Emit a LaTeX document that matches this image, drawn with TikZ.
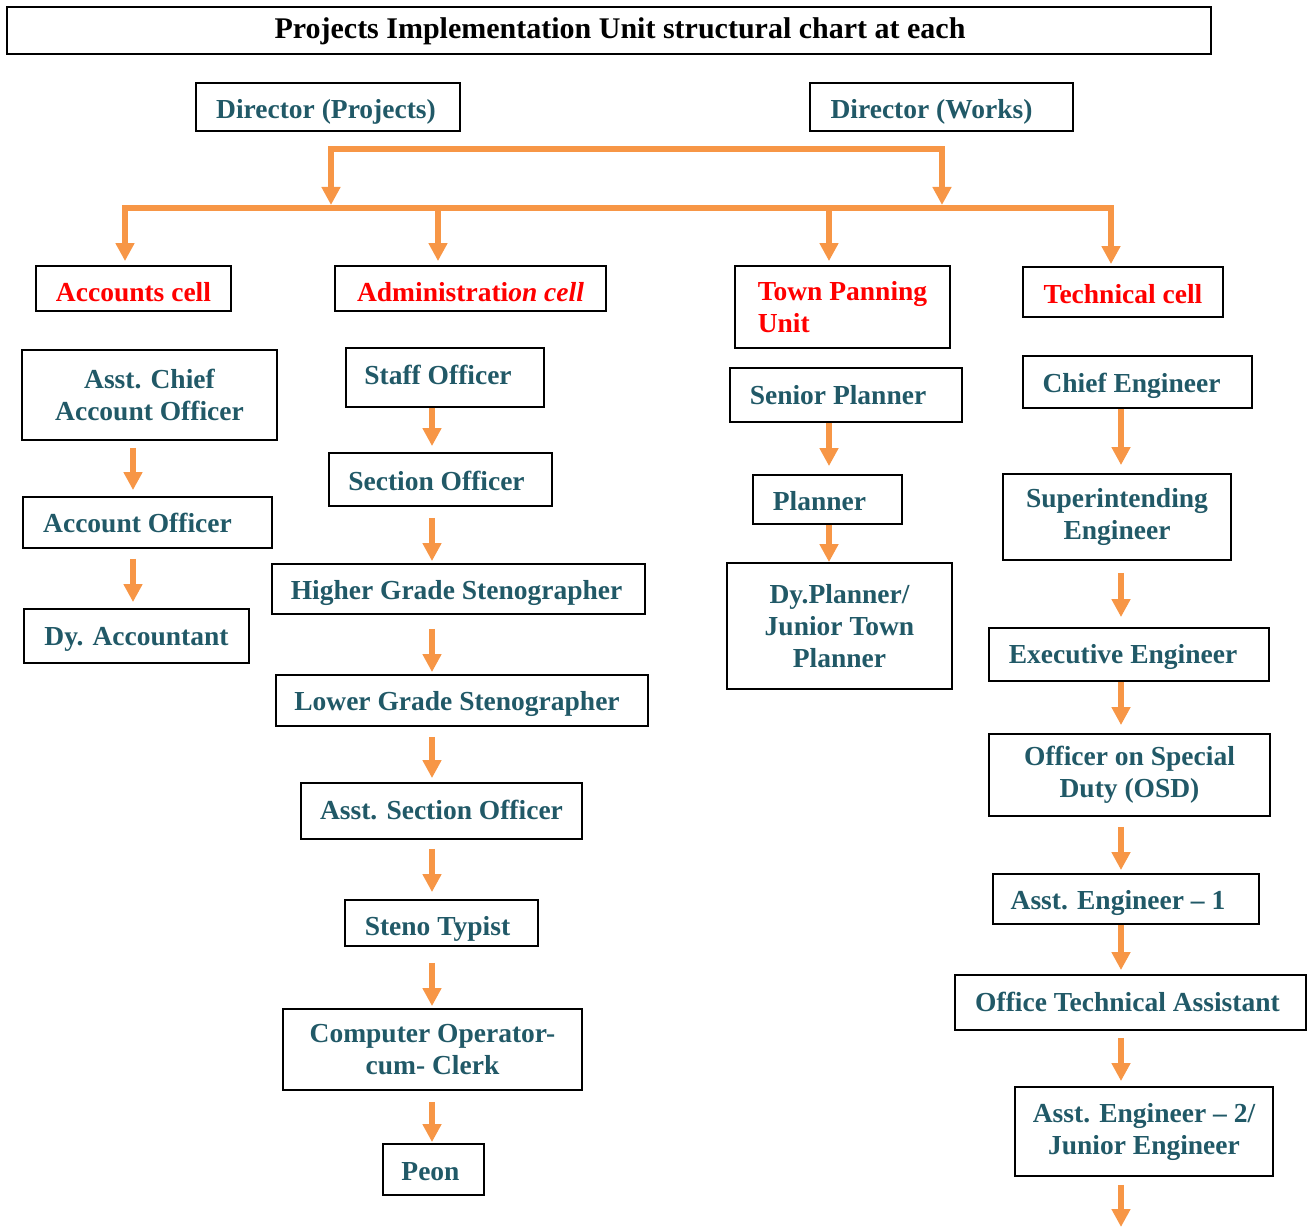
\documentclass[tikz,border=0pt]{standalone}
\usepackage{fontspec}
\setmainfont{Liberation Serif}
\usetikzlibrary{arrows.meta}
\definecolor{teal2}{HTML}{215967}
\definecolor{orng}{HTML}{F79646}
\definecolor{redt}{HTML}{FF0000}
\newcommand\shx[2]{\kern#1pt\relax#2\kern-#1pt\relax}
\begin{document}
\begin{tikzpicture}[x=1pt,y=-1pt,
  box/.style={draw=black,line width=1.8pt,inner sep=2pt,align=center,
    font=\fontsize{27.5}{32}\selectfont\bfseries,text=teal2},
  tv/.style={text height=#1pt,text depth=6pt},
  cell/.style={box,text=redt},
  bar/.style={draw=orng,line width=5.5pt,line cap=rect},
  arr/.style={draw=orng,line width=6pt,-{Triangle[width=18pt,length=18pt]}}]
\useasboundingbox (0,0) rectangle (1315,1228);
% title
\node[draw=black,line width=1.5pt,minimum width=1204pt,minimum height=47pt,inner sep=0pt,
  tv=22,font=\fontsize{30}{32}\selectfont\bfseries] (title) at (609,30.5)
  {\shx{11}{Projects Implementation Unit structural chart at each}};
% directors
\node[box,tv=30,minimum width=264pt,minimum height=48pt] (dp) at (328,107) {\shx{-2}{Director (Projects)}};
\node[box,tv=30,minimum width=263pt,minimum height=48pt] (dw) at (941.5,107) {\shx{-10}{Director (Works)}};
% cells
\node[cell,tv=31,minimum width=195pt,minimum height=45pt] (acc) at (133.5,288.5) {Accounts cell};
\node[cell,tv=31,minimum width=271pt,minimum height=45pt] (adm) at (470.5,288.5) {Administrati\textit{on cell}};
\node[cell,minimum width=215pt,minimum height=82pt,align=left] (town) at (842.5,307) {Town Panning\\Unit};
\node[cell,tv=28,minimum width=200pt,minimum height=50pt] (tech) at (1123,292) {Technical cell};
% accounts column
\node[box,minimum width=255pt,minimum height=90pt] (aco) at (149.5,395) {Asst. Chief\\Account Officer};
\node[box,tv=25,minimum width=249pt,minimum height=51pt] (ao) at (147.5,522.5) {\shx{-10}{Account Officer}};
\node[box,tv=24,minimum width=225pt,minimum height=54pt] (dya) at (136.5,636) {Dy. Accountant};
% admin column
\node[box,tv=19,minimum width=198pt,minimum height=59pt] (so) at (445,377.5) {\shx{-7}{Staff Officer}};
\node[box,tv=27,minimum width=223pt,minimum height=53pt] (sec) at (440.5,479.5) {\shx{-4}{Section Officer}};
\node[box,tv=26,minimum width=373pt,minimum height=50pt] (hgs) at (458.5,589) {\shx{-2}{Higher Grade Stenographer}};
\node[box,tv=25,minimum width=372pt,minimum height=51pt] (lgs) at (462,700.5) {\shx{-5}{Lower Grade Stenographer}};
\node[box,tv=22,minimum width=281pt,minimum height=56pt] (aso) at (441.5,811) {Asst. Section Officer};
\node[box,tv=30,minimum width=193pt,minimum height=46pt] (st) at (441.5,923) {\shx{-4}{Steno Typist}};
\node[box,minimum width=299pt,minimum height=81pt] (coc) at (432.5,1049.5) {Computer Operator-\\cum- Clerk};
\node[box,tv=27,minimum width=101pt,minimum height=51pt] (peon) at (433.5,1169.5) {\shx{-3}{Peon}};
% town planning column
\node[box,tv=24,minimum width=232pt,minimum height=54pt] (sp) at (846,395) {\shx{-8}{Senior Planner}};
\node[box,tv=27,minimum width=149pt,minimum height=49pt] (pl) at (827.5,499.5) {\shx{-8}{Planner}};
\node[box,minimum width=225pt,minimum height=126pt] (dyp) at (839.5,626) {Dy.Planner/\\Junior Town\\Planner};
% technical column
\node[box,tv=26,minimum width=229pt,minimum height=52pt] (ce) at (1137.5,382) {\shx{-6}{Chief Engineer}};
\node[box,minimum width=228pt,minimum height=86pt] (se) at (1117,517) {Superintending\\Engineer};
\node[box,tv=23,minimum width=280pt,minimum height=53pt] (ee) at (1129,654.5) {\shx{-6}{Executive Engineer}};
\node[box,minimum width=281pt,minimum height=82pt] (osd) at (1129.5,775) {Officer on Special\\Duty (OSD)};
\node[box,tv=26,minimum width=266pt,minimum height=50pt] (ae1) at (1126,899) {\shx{-8}{Asst. Engineer -- 1}};
\node[box,tv=23,minimum width=351pt,minimum height=55pt] (ota) at (1130.5,1002.5) {\shx{-3}{Office Technical Assistant}};
\node[box,minimum width=258pt,minimum height=89pt] (ae2) at (1144,1131.5) {Asst. Engineer -- 2/\\Junior Engineer};
% coordinates
\coordinate (b1L) at (331,149);
\coordinate (b1R) at (942,149);
\coordinate (b2L) at (125,208);
\coordinate (b2R) at (1111,208);
\coordinate (j1) at (331,208);
\coordinate (j2) at (942,208);
\coordinate (xadm) at (438,208);
\coordinate (xtown) at (829,208);
\coordinate (cA) at (133,0);
\coordinate (cB) at (432,0);
\coordinate (cT) at (829,0);
\coordinate (cE) at (1121,0);
\coordinate (endc) at (1121,1227);
% bars
\draw[bar] (b1L) -- (b1R);
\draw[bar] (b2L) -- (b2R);
\draw[arr,shorten >=3pt] (b1L) -- (j1);
\draw[arr,shorten >=3pt] (b1R) -- (j2);
\draw[arr,shorten >=4pt] (b2L) -- (acc.north -| b2L);
\draw[arr,shorten >=4pt] (xadm) -- (adm.north -| xadm);
\draw[arr,shorten >=4pt] (xtown) -- (town.north -| xtown);
\draw[arr,shorten >=2pt] (b2R) -- (tech.north -| b2R);
% accounts links
\draw[arr,shorten <=7pt,shorten >=6pt] (aco.south -| cA) -- (ao.north -| cA);
\draw[arr,shorten <=10pt,shorten >=6pt] (ao.south -| cA) -- (dya.north -| cA);
% admin links
\draw[arr,shorten >=6pt] (so.south -| cB) -- (sec.north -| cB);
\draw[arr,shorten <=11pt,shorten >=2pt] (sec.south -| cB) -- (hgs.north -| cB);
\draw[arr,shorten <=14pt,shorten >=2pt] (hgs.south -| cB) -- (lgs.north -| cB);
\draw[arr,shorten <=10pt,shorten >=4pt] (lgs.south -| cB) -- (aso.north -| cB);
\draw[arr,shorten <=9pt,shorten >=7pt] (aso.south -| cB) -- (st.north -| cB);
\draw[arr,shorten <=16pt,shorten >=2pt] (st.south -| cB) -- (coc.north -| cB);
\draw[arr,shorten <=11pt,shorten >=1pt] (coc.south -| cB) -- (peon.north -| cB);
% town links
\draw[arr,shorten >=8pt] (sp.south -| cT) -- (pl.north -| cT);
\draw[arr] (pl.south -| cT) -- (dyp.north -| cT);
% technical links
\draw[arr,shorten >=8pt] (ce.south -| cE) -- (se.north -| cE);
\draw[arr,shorten <=12pt,shorten >=10pt] (se.south -| cE) -- (ee.north -| cE);
\draw[arr,shorten >=8pt] (ee.south -| cE) -- (osd.north -| cE);
\draw[arr,shorten <=10pt,shorten >=3pt] (osd.south -| cE) -- (ae1.north -| cE);
\draw[arr,shorten >=4pt] (ae1.south -| cE) -- (ota.north -| cE);
\draw[arr,shorten <=7pt,shorten >=5pt] (ota.south -| cE) -- (ae2.north -| cE);
\draw[arr,shorten <=8pt] (ae2.south -| cE) -- (endc);
\end{tikzpicture}
\end{document}
